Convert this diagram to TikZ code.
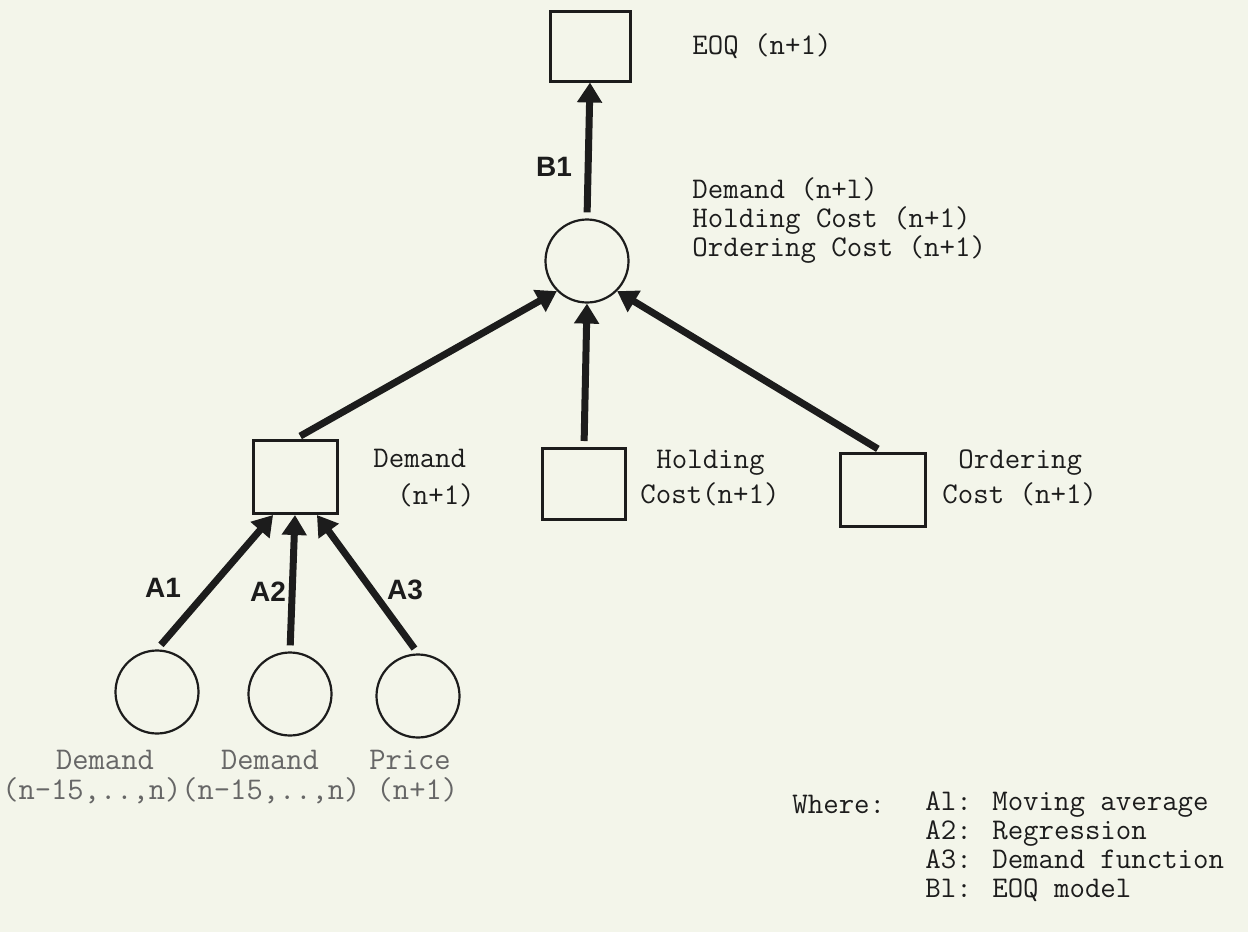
\documentclass[tikz,border=0pt]{standalone}
\usepackage{fontspec}
\setsansfont{Liberation Sans}
\usetikzlibrary{arrows.meta}

\definecolor{paper}{RGB}{243,245,234}
\definecolor{ink}{RGB}{28,28,28}

\tikzset{
    box/.style={draw=ink, line width=1.5pt, minimum width=41pt, minimum height=36pt, inner sep=0pt},
    bubble/.style={draw=ink, line width=1.1pt, circle, minimum size=41.5pt, inner sep=0pt},
    flow/.style={draw=ink, line width=3.5pt, -{Triangle[length=10pt, width=12pt]}, shorten <=3pt},
    tag/.style={font=\sffamily\bfseries\fontsize{14}{14}\selectfont, text=ink},
    typed/.style={font=\ttfamily\fontsize{15}{14.5}\selectfont, text=ink, inner sep=0pt, anchor=west, align=left},
    faded/.style={font=\ttfamily\fontsize{15.8}{14.5}\selectfont, text=black!60, inner sep=0pt}
}

\begin{document}
\begin{tikzpicture}[x=0.5pt, y=-0.5pt]
    \fill [paper] (0, 0) rectangle (1248, 932);
    \useasboundingbox (0, 0) rectangle (1248, 932);

    \node [box, minimum width=40pt, minimum height=35pt] (EOQ) at (590, 46) {};
    \node [typed] (EOQ text) at (692, 46) {EOQ (n+1)};

    \node [bubble] (Plan) at (587, 261) {};
    \node [typed] (Plan text) at (692, 221) {Demand (n+l)\\Holding Cost (n+1)\\Ordering Cost (n+1)};

    \node [box, minimum width=42pt, minimum height=36.5pt] (Demand) at (295, 477) {};
    \node [typed, font=\ttfamily\fontsize{15}{18.5}\selectfont] (Demand text) at (373, 478) {Demand\\\hspace*{12pt}(n+1)};

    \node [box, minimum width=41.5pt, minimum height=35.5pt] (Holding) at (584, 484) {};
    \node [typed, font=\ttfamily\fontsize{15}{17.5}\selectfont] (Holding text) at (640, 478) {\hspace*{8pt}Holding\\Cost(n+1)};

    \node [box, minimum width=42.5pt, minimum height=36.5pt] (Ordering) at (883, 490) {};
    \node [typed, font=\ttfamily\fontsize{15}{17.5}\selectfont] (Ordering text) at (942, 478) {\hspace*{8pt}Ordering\\Cost (n+1)};

    \node [bubble] (Past) at (157, 692) {};
    \node [bubble] (Trend) at (290, 694) {};
    \node [bubble] (Price) at (418, 696) {};

    \node [faded] (Past text) at (105, 760) {Demand};
    \node [faded] (Trend text) at (270, 760) {Demand};
    \node [faded] (Price text) at (410, 760) {Price};
    \node [faded, anchor=west] (Periods) at (2, 791) {(n-15,..,n)(n-15,..,n) (n+1)};

    \draw [flow] (Plan.north) -- (EOQ.south);
    \draw [flow] (Demand.north) -- (Plan.south west);
    \draw [flow] (Holding.north) -- (Plan.south);
    \draw [flow] (Ordering.north) -- (Plan.south east);

    \draw [flow] (Past.north) -- (Demand.-120);
    \draw [flow] (Trend.north) -- (Demand.south);
    \draw [flow] (Price.north) -- (Demand.-60);

    \node [tag] (B1) at (554, 167) {B1};
    \node [tag] (A1) at (163, 588) {A1};
    \node [tag] (A2) at (268, 592) {A2};
    \node [tag] (A3) at (405, 590) {A3};

    \node [typed] (Where) at (792, 804) {Where:};
    \node [typed] (Key) at (925, 847) {Al: Moving average\\A2: Regression\\A3: Demand function\\Bl: EOQ model};
  \end{tikzpicture}
\end{document}
